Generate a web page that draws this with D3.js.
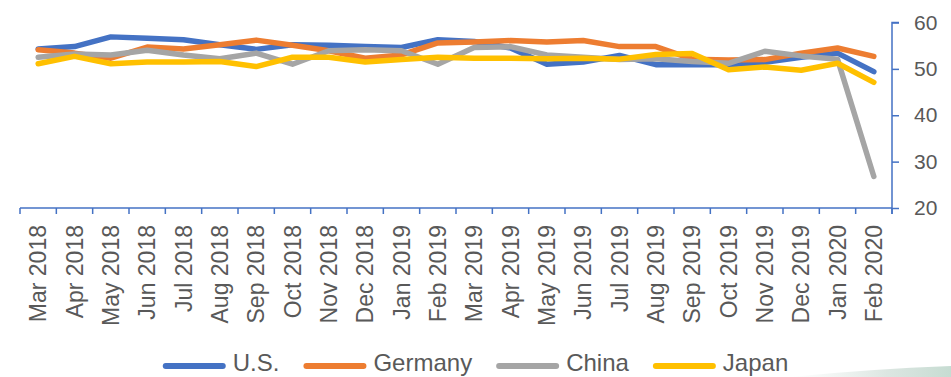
<!DOCTYPE html>
<html>
<head>
<meta charset="utf-8">
<script src="https://cdn.jsdelivr.net/npm/d3@7/dist/d3.min.js"></script>
<style>
  html, body { margin: 0; padding: 0; background: #fff; }
  svg { display: block; font-family: "Liberation Sans", Arial, sans-serif; }
</style>
</head>
<body>
<svg id="chart" width="951" height="377"></svg>
<script>
// Manufacturing PMI by economy, monthly
const months = ["Mar 2018","Apr 2018","May 2018","Jun 2018","Jul 2018","Aug 2018","Sep 2018","Oct 2018",
  "Nov 2018","Dec 2018","Jan 2019","Feb 2019","Mar 2019","Apr 2019","May 2019","Jun 2019","Jul 2019",
  "Aug 2019","Sep 2019","Oct 2019","Nov 2019","Dec 2019","Jan 2020","Feb 2020"];

const us      = [54.3,54.8,56.9,56.6,56.3,55.2,54.2,55.2,55.1,54.8,54.6,56.3,55.9,54.5,51.0,51.5,52.9,50.9,50.9,50.9,51.4,52.5,53.4,49.4];
const germany = [54.1,53.4,52.3,54.7,54.3,55.2,56.2,55.1,53.9,52.3,53.0,55.6,55.8,56.1,55.8,56.1,54.8,54.8,52.1,51.9,52.0,53.4,54.5,52.7];
const china   = [52.5,53.2,53.0,54.0,53.0,52.2,53.4,51.0,53.9,54.1,53.9,51.0,54.6,54.8,53.0,52.5,52.0,52.2,51.6,51.2,53.8,52.8,52.1,26.8];
const japan   = [51.1,52.7,51.1,51.5,51.5,51.6,50.5,52.5,52.5,51.5,52.0,52.5,52.3,52.3,52.2,52.3,52.1,53.1,53.3,49.8,50.4,49.7,51.2,47.1];

const seriesNames  = ["U.S.","Germany","China","Japan"];
const seriesValues = [us, germany, china, japan];
const seriesColors = ["#4472C4","#ED7D31","#A5A5A5","#FFC000"];
const yTicks = [20,30,40,50,60];

const svg = d3.select("#chart");
const axisColor = "#4472C4";
const textColor = "#595959";

const x = d3.scaleBand().domain(months).range([20, 892]);
const y = d3.scaleLinear().domain([20, 60]).range([208, 22.5]);

// grey flourish along the bottom-right edge
const defs = svg.append("defs");
const grad = defs.append("linearGradient").attr("id", "edge").attr("x1", "0").attr("x2", "1");
grad.append("stop").attr("offset", "0").attr("stop-color", "#dfe8e4").attr("stop-opacity", 0);
grad.append("stop").attr("offset", "0.6").attr("stop-color", "#d3e0da").attr("stop-opacity", 0.8);
grad.append("stop").attr("offset", "1").attr("stop-color", "#c6dcd2").attr("stop-opacity", 1);
svg.append("path")
  .attr("d", "M790,377 Q870,369 951,366 L951,377 Z")
  .attr("fill", "url(#edge)");

// x axis (bottom)
const xAxis = svg.append("g").attr("transform", "translate(0,208)");
xAxis.append("line").attr("x1", 20).attr("x2", 892).attr("y1", 0).attr("y2", 0)
  .attr("stroke", axisColor).attr("stroke-width", 1.5);
const bounds = months.map(m => x(m)).concat([892]);
xAxis.selectAll("line.tick").data(bounds).join("line")
  .attr("class", "tick")
  .attr("x1", d => d).attr("x2", d => d).attr("y1", 0).attr("y2", 6)
  .attr("stroke", axisColor).attr("stroke-width", 1.5);

svg.append("g").selectAll("text").data(months).join("text")
  .attr("transform", d => `translate(${x(d) + x.bandwidth() / 2},225) rotate(-90)`)
  .attr("text-anchor", "end")
  .attr("dy", "0.35em")
  .attr("font-size", 23)
  .attr("fill", textColor)
  .text(d => d);

// y axis (right)
const yAxis = d3.axisRight(y).tickValues(yTicks).tickSize(7).tickPadding(15).tickFormat(d3.format("d"));
const yG = svg.append("g").attr("transform", "translate(892,0)").call(yAxis);
yG.select(".domain").attr("stroke", axisColor).attr("stroke-width", 1.5)
  .attr("d", `M7,${y(60)}H0V${y(20) + 6}`);
yG.selectAll(".tick line").attr("stroke", axisColor).attr("stroke-width", 1.5);
yG.selectAll(".tick text").attr("font-size", 21).attr("fill", textColor)
  .attr("font-family", "Liberation Sans, Arial, sans-serif");

// series lines
const line = d3.line()
  .x((d, i) => x(months[i]) + x.bandwidth() / 2)
  .y(d => y(d));

svg.append("g").selectAll("path").data(seriesValues).join("path")
  .attr("d", d => line(d))
  .attr("fill", "none")
  .attr("stroke", (d, i) => seriesColors[i])
  .attr("stroke-width", 5.5)
  .attr("stroke-linejoin", "round")
  .attr("stroke-linecap", "round");

// legend
const legend = svg.append("g");
const fontSize = 24;
let cursor = 0;
const items = [];
const measure = svg.append("text").attr("font-size", fontSize).attr("visibility", "hidden");
seriesNames.forEach((name, i) => {
  measure.text(name);
  const w = measure.node().getComputedTextLength();
  items.push({ name, color: seriesColors[i], x: cursor, w });
  cursor += 57 + 10 + w + 27;
});
measure.remove();
const total = cursor - 27;
const startX = 477 - total / 2;
const li = legend.selectAll("g").data(items).join("g")
  .attr("transform", d => `translate(${startX + d.x},0)`);
li.append("line").attr("x1", 0).attr("x2", 57).attr("y1", 366).attr("y2", 366)
  .attr("stroke", d => d.color).attr("stroke-width", 6).attr("stroke-linecap", "round");
li.append("text").attr("x", 67).attr("y", 371)
  .attr("font-size", fontSize).attr("fill", textColor)
  .text(d => d.name);
</script>
</body>
</html>
